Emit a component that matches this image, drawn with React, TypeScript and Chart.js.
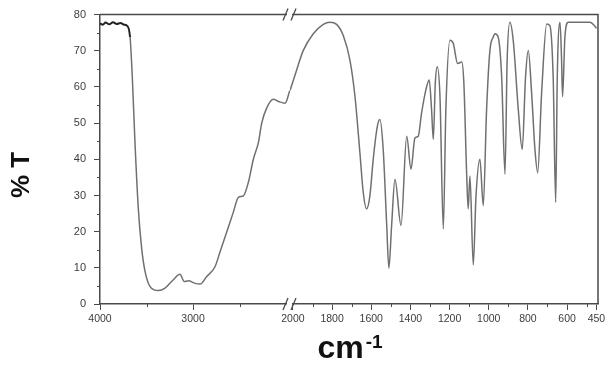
import React, { useEffect, useRef } from "react";
import { Chart, registerables } from "chart.js";

Chart.register(...registerables);

// Left segment of the broken axis (4000 → 2000 cm-1)
const leftWavenumbers = [4000, 3970, 3940, 3900, 3860, 3820, 3780, 3740, 3713, 3677, 3653, 3624, 3588, 3552, 3516, 3462, 3373, 3301, 3212, 3140, 3094, 3051, 2979, 2925, 2853, 2764, 2710, 2638, 2567, 2513, 2459, 2406, 2352, 2298, 2262, 2208, 2137, 2083, 2011, 1960];
const leftTransmittance = [77.6, 77.2, 77.8, 77.3, 77.9, 77.4, 77.7, 77.2, 77.0, 73.8, 62.8, 44.6, 26.3, 15.3, 9.0, 4.8, 3.7, 4.4, 6.7, 8.2, 6.2, 6.4, 5.7, 5.5, 7.6, 10.3, 14.4, 19.9, 25.4, 29.5, 29.9, 33.6, 40.0, 44.6, 50.0, 54.2, 56.6, 56.0, 55.5, 59.0];

// Right segment of the broken axis (2000 → 450 cm-1)
const rightWavenumbers = [2015, 1981, 1947, 1896, 1845, 1811, 1777, 1743, 1709, 1683, 1658, 1641, 1624, 1607, 1590, 1569, 1556, 1539, 1521, 1510, 1496, 1479, 1448, 1419, 1397, 1377, 1360, 1343, 1321, 1304, 1292, 1283, 1273, 1263, 1249, 1232, 1219, 1198, 1181, 1159, 1138, 1127, 1113, 1105, 1096, 1079, 1065, 1045, 1028, 1011, 994, 977, 968, 952, 934, 917, 906, 892, 875, 849, 829, 812, 798, 781, 764, 750, 730, 704, 688, 671, 658, 650, 636, 628, 623, 611, 594, 534, 483, 458, 450];
const rightTransmittance = [59.0, 64.7, 70.1, 74.7, 77.3, 77.9, 77.3, 74.2, 67.4, 57.3, 41.8, 30.9, 26.3, 29.9, 40.0, 49.1, 51.0, 42.7, 21.7, 9.9, 21.7, 34.5, 21.7, 46.4, 37.3, 45.9, 46.4, 52.8, 59.2, 61.9, 53.7, 45.5, 61.0, 65.6, 57.3, 20.8, 53.7, 72.9, 72.0, 66.5, 66.9, 61.0, 36.3, 26.3, 35.4, 10.8, 29.9, 40.0, 27.2, 53.7, 70.1, 73.8, 74.7, 73.8, 62.8, 35.9, 67.4, 77.9, 72.9, 53.7, 42.7, 62.8, 70.1, 58.3, 42.7, 36.3, 58.3, 77.4, 77.0, 62.8, 28.1, 62.8, 77.9, 67.4, 57.3, 73.8, 77.9, 77.9, 77.9, 76.8, 76.2];

const yMajorTicks = [0, 10, 20, 30, 40, 50, 60, 70, 80];
const yMinorTicks = [5, 15, 25, 35, 45, 55, 65, 75];
const leftMajorTicks = [4000, 3000];
const leftMinorTicks = [3500, 2500];
const rightMajorTicks = [2000, 1800, 1600, 1400, 1200, 1000, 800, 600, 450];
const rightMinorTicks = [1900, 1700, 1500, 1300, 1100, 900, 700, 500];

const yTitle = "% T";
const xTitleMain = "cm";
const xTitleSup = "-1";

const AXIS_COLOR = "#4a4a4a";
const LINE_COLOR = "#707070";
const TEXT_COLOR = "#3c3c3c";
const FONT = "'Liberation Sans', Arial, sans-serif";

const framePlugin = {
  id: "frame",
  afterDraw(chart: any) {
    const { ctx, chartArea } = chart;
    const { left, right, top, bottom } = chartArea;
    const x1 = chart.scales.x1;
    const x2 = chart.scales.x2;
    const y = chart.scales.y;
    const bx = x1.right;
    ctx.save();
    ctx.strokeStyle = AXIS_COLOR;
    ctx.lineWidth = 1.5;
    ctx.beginPath();
    ctx.moveTo(left, top);
    ctx.lineTo(right, top);
    ctx.lineTo(right, bottom);
    ctx.stroke();

    // minor ticks
    ctx.lineWidth = 1;
    ctx.beginPath();
    for (const v of yMinorTicks) {
      const py = Math.round(y.getPixelForValue(v)) + 0.5;
      ctx.moveTo(left - 3, py);
      ctx.lineTo(left, py);
    }
    for (const v of leftMinorTicks) {
      const px = Math.round(x1.getPixelForValue(v)) + 0.5;
      ctx.moveTo(px, bottom);
      ctx.lineTo(px, bottom + 3);
    }
    for (const v of rightMinorTicks) {
      const px = Math.round(x2.getPixelForValue(v)) + 0.5;
      ctx.moveTo(px, bottom);
      ctx.lineTo(px, bottom + 3);
    }
    ctx.stroke();

    // axis break marks
    for (const yy of [top, bottom]) {
      ctx.fillStyle = "#ffffff";
      ctx.fillRect(bx - 3, yy - 2, 5, 4);
      ctx.strokeStyle = AXIS_COLOR;
      ctx.lineWidth = 1.3;
      ctx.beginPath();
      ctx.moveTo(bx - 7, yy + 6);
      ctx.lineTo(bx - 2, yy - 6);
      ctx.moveTo(bx + 1, yy + 6);
      ctx.lineTo(bx + 6, yy - 6);
      ctx.stroke();
    }

    // y title
    ctx.fillStyle = "#111111";
    ctx.font = `bold 26px ${FONT}`;
    ctx.textAlign = "center";
    ctx.textBaseline = "middle";
    ctx.translate(22, 175);
    ctx.rotate(-Math.PI / 2);
    ctx.fillText(yTitle, 0, 0);
    ctx.setTransform(1, 0, 0, 1, 0, 0);

    // x title with superscript
    ctx.textAlign = "left";
    ctx.textBaseline = "alphabetic";
    ctx.font = `bold 32px ${FONT}`;
    const wMain = ctx.measureText(xTitleMain).width;
    ctx.font = `bold 19px ${FONT}`;
    const wSup = ctx.measureText(xTitleSup).width;
    const startX = 350 - (wMain + 2 + wSup) / 2;
    ctx.font = `bold 32px ${FONT}`;
    ctx.fillText(xTitleMain, startX, 358);
    ctx.font = `bold 19px ${FONT}`;
    ctx.fillText(xTitleSup, startX + wMain + 2, 348);
    ctx.restore();
  },
};

export default function App() {
  const canvasRef = useRef<HTMLCanvasElement | null>(null);

  useEffect(() => {
    if (!canvasRef.current) return;
    const leftData = leftWavenumbers.map((w, i) => ({ x: w, y: leftTransmittance[i] }));
    const rightData = rightWavenumbers.map((w, i) => ({ x: w, y: rightTransmittance[i] }));

    const xCommon = {
      type: "linear",
      position: "bottom",
      reverse: true,
      stack: "wavenumber",
      border: { color: AXIS_COLOR, width: 1.5 },
      grid: { drawOnChartArea: false, drawTicks: true, tickLength: 6, tickColor: AXIS_COLOR, tickWidth: 1 },
      afterFit: (scale: any) => {
        scale.height = 61;
      },
    };

    const chart = new Chart(canvasRef.current, {
      type: "line",
      data: {
        datasets: [
          {
            data: leftData,
            xAxisID: "x1",
            yAxisID: "y",
            borderColor: LINE_COLOR,
            borderWidth: 1.5,
            pointRadius: 0,
            cubicInterpolationMode: "monotone",
            segment: {
              borderColor: (ctx: any) => (ctx.p0.parsed.x > 3700 ? "#222222" : LINE_COLOR),
              borderWidth: (ctx: any) => (ctx.p0.parsed.x > 3700 ? 2 : 1.5),
            },
          },
          {
            data: rightData,
            xAxisID: "x2",
            yAxisID: "y",
            borderColor: LINE_COLOR,
            borderWidth: 1.5,
            pointRadius: 0,
            cubicInterpolationMode: "monotone",
          },
        ],
      },
      options: {
        responsive: false,
        animation: false,
        layout: { padding: { top: 12, right: 11, left: 0, bottom: 0 } },
        plugins: { legend: { display: false }, tooltip: { enabled: false }, title: { display: false } },
        scales: {
          x1: {
            ...xCommon,
            min: 1958,
            max: 4000,
            stackWeight: 190,
            afterBuildTicks: (scale: any) => {
              scale.ticks = leftMajorTicks.map((v) => ({ value: v }));
            },
            ticks: {
              autoSkip: false,
              maxRotation: 0,
              padding: 3,
              color: TEXT_COLOR,
              font: { family: FONT, size: 10.5 },
              callback: (v: any) => String(v),
            },
          },
          x2: {
            ...xCommon,
            min: 442,
            max: 2015,
            stackWeight: 308,
            afterBuildTicks: (scale: any) => {
              scale.ticks = rightMajorTicks.map((v) => ({ value: v }));
            },
            ticks: {
              autoSkip: false,
              maxRotation: 0,
              padding: 3,
              color: TEXT_COLOR,
              font: { family: FONT, size: 10.5 },
              callback: (v: any) => String(v),
            },
          },
          y: {
            type: "linear",
            position: "left",
            min: 0,
            max: 80,
            border: { color: AXIS_COLOR, width: 1.5 },
            grid: { drawOnChartArea: false, drawTicks: true, tickLength: 6, tickColor: AXIS_COLOR, tickWidth: 1 },
            afterBuildTicks: (scale: any) => {
              scale.ticks = yMajorTicks.map((v) => ({ value: v }));
            },
            afterFit: (scale: any) => {
              scale.width = 100;
            },
            ticks: {
              padding: 8,
              color: TEXT_COLOR,
              font: { family: FONT, size: 11 },
              callback: (v: any) => String(v),
            },
          },
        },
      } as any,
      plugins: [framePlugin],
    } as any);

    return () => chart.destroy();
  }, []);

  return (
    <div style={{ position: "absolute", left: 0, top: 0, width: 609, height: 365, background: "#ffffff" }}>
      <canvas ref={canvasRef} width={609} height={365} style={{ display: "block" }} />
    </div>
  );
}
